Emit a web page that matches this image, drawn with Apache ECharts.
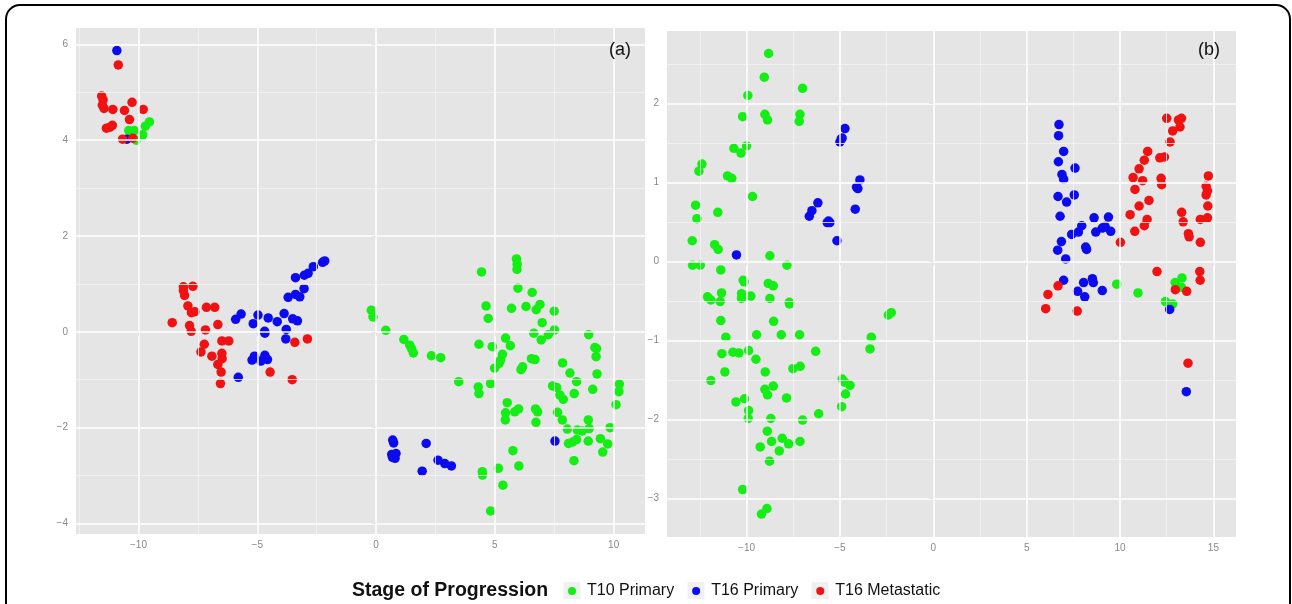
<!DOCTYPE html>
<html><head><meta charset="utf-8">
<script src="https://cdn.jsdelivr.net/npm/echarts@6/dist/echarts.min.js"></script>
<style>html,body{margin:0;padding:0;background:#fff}#c{width:1292px;height:604px}</style>
</head><body><div id="c"></div>
<script>
// ---------- data ----------
const seriesNames = ['T10 Primary', 'T16 Primary', 'T16 Metastatic'];
const legendTitle = 'Stage of Progression';
const panelLabels = ['(a)', '(b)'];

// panel (a)
const aT10 = [
[-10.41,4.20],[-10.18,4.20],[-10.10,4.00],[-9.82,4.11],[-9.71,4.29],[-9.54,4.38],
[-0.20,0.45],[-0.13,0.31],[0.41,0.03],[1.17,-0.16],[1.42,-0.28],[1.49,-0.35],[1.57,-0.44],[2.33,-0.50],[2.72,-0.54],[3.48,-1.04],
[4.44,1.25],[4.63,0.54],[4.72,0.28],[4.33,-0.26],[4.89,-0.31],[4.30,-1.15],[4.33,-1.29],[4.82,-1.08],
[5.91,1.52],[5.94,1.41],[5.93,1.30],[5.97,0.91],[5.70,0.49],[6.31,0.53],[6.57,0.82],[6.74,0.46],[6.90,0.57],[7.50,0.43],[6.99,0.19],[6.64,-0.03],[6.95,-0.17],[7.25,-0.06],[7.51,0.04],
[5.45,-0.13],[5.65,-0.29],[5.32,-0.47],[5.24,-0.59],[5.18,-0.66],[4.99,-0.76],[6.17,-0.73],[6.10,-0.79],[6.54,-0.56],[6.69,-0.58],
[5.52,-1.48],[5.45,-1.69],[5.44,-1.84],[5.84,-1.67],[6.00,-1.61],[6.71,-1.61],[6.80,-1.67],[6.73,-1.89],[7.64,-1.68],[7.84,-1.84],[8.05,-2.03],
[7.43,-1.13],[7.60,-1.16],[7.74,-1.32],[7.88,-1.41],[8.34,-1.29],[7.85,-0.65],[8.16,-0.86],[8.44,-1.04],
[8.95,-0.06],[9.21,-0.33],[9.28,-0.35],[9.26,-0.52],[9.30,-0.88],[9.12,-1.20],[10.24,-1.09],[10.22,-1.25],[10.10,-1.52],[9.85,-2.00],
[8.93,-1.84],[8.97,-2.02],[8.93,-2.28],[8.68,-2.07],[8.47,-2.05],[8.10,-2.33],[8.27,-2.30],[8.44,-2.25],[9.44,-2.23],[9.75,-2.34],[9.54,-2.51],[8.33,-2.69],
[5.76,-2.48],[6.01,-2.80],[5.15,-2.85],[4.47,-2.92],[4.48,-2.99],[5.34,-3.20],[4.82,-3.74]
];
const aT16 = [
[-10.91,5.87],[-10.49,4.02],
[-5.91,0.26],[-5.68,0.37],[-5.17,0.17],[-4.97,0.35],[-4.69,0.01],[-4.68,-0.03],[-4.54,0.29],[-4.16,0.21],[-3.87,0.38],[-3.51,0.27],[-3.31,0.23],[-3.78,0.05],[-3.80,-0.15],
[-5.22,-0.59],[-5.12,-0.51],[-4.85,-0.61],[-4.68,-0.49],[-4.57,-0.58],[-5.80,-0.95],
[-3.70,0.72],[-3.39,0.78],[-3.21,0.73],[-3.03,0.90],[-3.39,1.13],[-3.02,1.18],[-2.86,1.22],[-2.64,1.36],[-2.25,1.45],[-2.16,1.48],
[0.70,-2.26],[0.74,-2.32],[0.66,-2.56],[0.84,-2.54],[0.80,-2.64],[0.69,-2.62],[2.11,-2.33],[1.94,-2.91],[2.61,-2.68],[2.89,-2.75],[3.17,-2.80],[7.53,-2.28]
];
const aT16M = [
[-10.85,5.57],[-11.55,4.92],[-11.49,4.84],[-11.52,4.73],[-11.45,4.66],[-11.08,4.64],[-10.59,4.62],[-10.27,4.79],[-9.80,4.64],[-10.38,4.43],[-11.35,4.25],[-11.20,4.27],[-11.10,4.31],[-10.67,4.02],[-10.24,4.04],
[-8.11,0.94],[-7.71,0.95],[-8.11,0.86],[-8.06,0.76],[-7.92,0.54],[-7.77,0.40],[-7.63,0.42],[-7.14,0.51],[-6.79,0.51],[-8.58,0.19],[-7.85,0.13],[-7.78,0.01],[-7.18,0.04],[-6.66,0.15],
[-6.49,-0.19],[-6.20,-0.19],[-7.23,-0.26],[-7.37,-0.42],[-6.91,-0.51],[-6.49,-0.45],[-6.48,-0.56],[-6.66,-0.68],[-6.52,-0.84],[-6.55,-1.08],[-4.46,-0.84],[-3.53,-1.00],[-3.42,-0.22],[-2.89,-0.15]
];

// panel (b)
const bT10 = [
[-8.82,2.63],[-9.05,2.33],[-9.93,2.10],[-7.00,2.19],[-10.21,1.83],[-9.02,1.86],[-8.88,1.79],[-7.14,1.86],[-7.18,1.77],[-10.68,1.43],[-10.30,1.37],[-10.00,1.46],
[-12.39,1.23],[-12.55,1.14],[-11.02,1.08],[-10.79,1.05],[-9.68,0.82],[-12.73,0.71],[-12.66,0.54],[-11.54,0.62],[-12.91,0.26],[-11.71,0.21],[-11.52,0.15],[-8.75,0.07],
[-12.89,-0.05],[-12.48,-0.05],[-11.38,-0.11],[-7.84,-0.05],[-10.18,-0.24],[-10.13,-0.26],[-8.84,-0.28],[-8.57,-0.31],
[-12.09,-0.45],[-11.91,-0.49],[-11.34,-0.40],[-11.41,-0.51],[-10.27,-0.41],[-10.27,-0.47],[-9.77,-0.44],[-8.75,-0.47],[-7.71,-0.52],[-7.70,-0.54],
[-11.38,-0.75],[-8.55,-0.76],[-11.11,-0.96],[-9.46,-0.93],[-8.14,-0.93],[-7.16,-0.93],[-11.32,-1.17],[-10.73,-1.15],[-10.41,-1.16],[-9.89,-1.13],[-9.50,-1.24],[-6.30,-1.14],
[-11.91,-1.51],[-11.16,-1.40],[-9.00,-1.40],[-7.52,-1.36],[-7.13,-1.33],[-9.02,-1.62],[-8.88,-1.69],[-8.57,-1.58],[-10.57,-1.78],[-10.11,-1.74],[-7.86,-1.73],
[-9.89,-1.89],[-9.91,-1.99],[-8.70,-1.99],[-7.00,-2.01],[-6.14,-1.93],[-8.89,-2.15],[-8.66,-2.28],[-8.09,-2.24],[-7.75,-2.31],[-8.25,-2.40],[-9.27,-2.35],[-7.14,-2.28],[-8.77,-2.53],
[-10.21,-2.89],[-8.91,-3.13],[-9.20,-3.20],
[-4.88,-1.49],[-4.75,-1.53],[-4.46,-1.57],[-4.70,-1.68],[-4.91,-1.84],[-3.39,-1.11],[-3.32,-0.96],[-2.41,-0.68],[-2.25,-0.65],
[9.82,-0.29],[10.96,-0.40],[12.95,-0.27],[13.32,-0.21],[13.29,-0.33],[12.43,-0.51],[12.82,-0.54]
];
const bT16 = [
[-10.54,0.08],[-4.73,1.68],[-4.93,1.55],[-5.00,1.51],[-4.88,1.56],[-3.93,1.03],[-4.04,0.92],[-4.11,0.94],[-4.18,0.66],[-6.18,0.74],[-6.50,0.64],[-6.64,0.57],[-5.61,0.51],[-5.54,0.49],[-5.68,0.49],[-5.16,0.26],
[6.73,1.73],[6.71,1.59],[6.98,1.39],[6.70,1.26],[7.59,1.18],[6.89,1.10],[6.98,1.04],[6.68,0.82],[7.55,0.84],[7.14,0.75],[6.79,0.57],[8.61,0.55],[9.38,0.56],
[7.95,0.45],[7.77,0.37],[7.41,0.34],[8.70,0.37],[9.05,0.42],[9.20,0.44],[9.50,0.38],[6.86,0.25],[6.66,0.14],[8.16,0.18],[8.21,0.15],[7.09,0.03],
[6.98,-0.24],[8.05,-0.27],[8.52,-0.22],[8.57,-0.27],[7.73,-0.38],[8.11,-0.45],[9.05,-0.37],[12.66,-0.61],[13.55,-1.65]
];
const bT16M = [
[12.50,1.81],[13.13,1.79],[13.29,1.81],[13.21,1.70],[12.82,1.65],[12.68,1.51],[11.48,1.39],[12.13,1.31],[12.38,1.32],[11.30,1.28],[11.02,1.17],[10.70,1.06],[11.21,1.02],[12.20,1.05],[12.23,0.97],[10.80,0.91],
[14.73,1.08],[14.61,0.95],[14.68,0.89],[14.61,0.84],[14.70,0.70],[11.55,0.77],[11.02,0.70],[10.54,0.59],[11.45,0.53],[11.30,0.45],[10.79,0.38],[13.30,0.62],[13.38,0.50],[13.66,0.35],[13.70,0.31],
[14.30,0.53],[14.68,0.55],[14.30,0.24],[10.02,0.24],[11.98,-0.13],[14.27,-0.13],[14.29,-0.24],[12.96,-0.36],[13.57,-0.38],[6.68,-0.31],[6.14,-0.42],[6.02,-0.60],[7.71,-0.63],[13.64,-1.29]
];

// axis ranges and ticks
const aRangeX = [-12.63, 11.32], aRangeY = [-4.22, 6.34];
const bRangeX = [-14.26, 16.21], bRangeY = [-3.49, 2.915];
const aMajorX = [-10, -5, 0, 5, 10], aMinorX = [-12.5, -7.5, -2.5, 2.5, 7.5];
const aMajorY = [-4, -2, 0, 2, 4, 6], aMinorY = [-3, -1, 1, 3, 5];
const bMajorX = [-10, -5, 0, 5, 10, 15], bMinorX = [-12.5, -7.5, -2.5, 2.5, 7.5, 12.5];
const bMajorY = [-3, -2, -1, 0, 1, 2], bMinorY = [-2.5, -1.5, -0.5, 0.5, 1.5, 2.5];

// ---------- chart ----------
const colors = ['#14ee14', '#0b0bee', '#f01212'];
const FONT = 'Liberation Sans, Arial, Helvetica, sans-serif';
const chart = echarts.init(document.getElementById('c'), null, {renderer: 'canvas'});

const fmt = v => String(v).replace('-', '\u2212');
function axisCfg(gi, range, major, margin) {
  return {
    type: 'value', gridIndex: gi, min: range[0], max: range[1],
    splitLine: {show: false}, axisLine: {show: false},
    axisTick: {show: true, customValues: major, length: 4, lineStyle: {color: '#8a8a8a', width: 1}},
    axisLabel: {customValues: major, formatter: fmt, color: '#8a8a8a', fontSize: 10, fontFamily: FONT, margin: margin}
  };
}
function gridSeries(gi, majX, minX, majY, minY) {
  const minor = {color: '#f2f2f2', width: 0.8, type: 'solid'};
  const major = {color: '#ffffff', width: 1.5, type: 'solid'};
  const data = []
    .concat(minX.map(v => ({xAxis: v, lineStyle: minor})))
    .concat(minY.map(v => ({yAxis: v, lineStyle: minor})))
    .concat(majX.map(v => ({xAxis: v, lineStyle: major})))
    .concat(majY.map(v => ({yAxis: v, lineStyle: major})));
  return {
    type: 'scatter', xAxisIndex: gi, yAxisIndex: gi, data: [], z: 1, silent: true,
    markLine: {silent: true, symbol: ['none', 'none'], label: {show: false}, animation: false,
      emphasis: {disabled: true}, data: data}
  };
}
function pts(gi, name, data, ci) {
  return {
    type: 'scatter', name: name, xAxisIndex: gi, yAxisIndex: gi, data: data, z: 3,
    symbol: 'circle', symbolSize: 9.5, itemStyle: {color: colors[ci], opacity: 1},
    emphasis: {disabled: true}, animation: false
  };
}

// legend key backgrounds (decoration behind the legend symbols)
const keyCenters = [572, 696, 820];
const keyRects = keyCenters.map(cx => ({
  type: 'rect', silent: true, z: 3, shape: {x: cx - 8.5, y: 582, width: 17, height: 17},
  style: {fill: '#f0f0f0'}
}));

const option = {
  animation: false,
  backgroundColor: '#ffffff',
  title: [
    {text: panelLabels[0], left: 609, top: 41, padding: 0, textStyle: {fontSize: 18, fontWeight: 'normal', color: '#111', fontFamily: FONT}},
    {text: panelLabels[1], left: 1198, top: 41, padding: 0, textStyle: {fontSize: 18, fontWeight: 'normal', color: '#111', fontFamily: FONT}},
    {text: legendTitle, left: 352, top: 581, padding: 0, textStyle: {fontSize: 19.5, fontWeight: 'bold', color: '#111', fontFamily: FONT}}
  ],
  legend: {
    data: seriesNames, left: 563, top: 578, icon: 'circle', itemWidth: 8, itemHeight: 8, itemGap: 18,
    textStyle: {fontSize: 16, color: '#111', fontFamily: FONT, padding: [0, 0, 0, 6]},
    selectedMode: false
  },
  grid: [
    {left: 76, top: 28, width: 569, height: 506, show: true, backgroundColor: '#e5e5e5', borderWidth: 0, outerBoundsMode: 'none'},
    {left: 667, top: 31, width: 569, height: 506, show: true, backgroundColor: '#e5e5e5', borderWidth: 0, outerBoundsMode: 'none'}
  ],
  xAxis: [axisCfg(0, aRangeX, aMajorX, 6), axisCfg(1, bRangeX, bMajorX, 6)],
  yAxis: [axisCfg(0, aRangeY, aMajorY, 8), axisCfg(1, bRangeY, bMajorY, 8)],
  graphic: keyRects.concat([
    {type: 'rect', silent: true, z: 100, shape: {x: 6, y: 5, width: 1284, height: 700, r: 14},
      style: {fill: 'none', stroke: '#000', lineWidth: 2}}
  ]),
  series: [
    gridSeries(0, aMajorX, aMinorX, aMajorY, aMinorY),
    gridSeries(1, bMajorX, bMinorX, bMajorY, bMinorY),
    pts(0, seriesNames[0], aT10, 0), pts(0, seriesNames[1], aT16, 1), pts(0, seriesNames[2], aT16M, 2),
    pts(1, seriesNames[0], bT10, 0), pts(1, seriesNames[1], bT16, 1), pts(1, seriesNames[2], bT16M, 2)
  ]
};
chart.setOption(option);
</script></body></html>
